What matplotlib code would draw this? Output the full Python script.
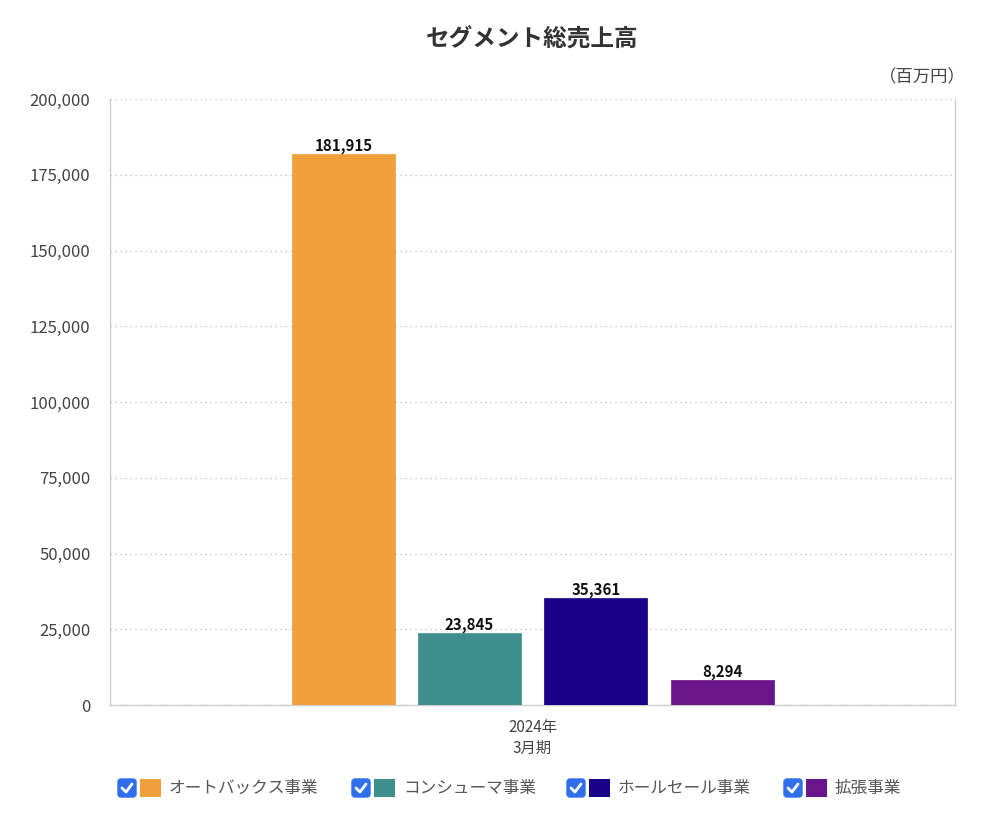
import matplotlib
matplotlib.use("Agg")
import matplotlib.pyplot as plt
from matplotlib.patches import FancyBboxPatch, Rectangle
from matplotlib.lines import Line2D

plt.rcParams['font.family'] = ['Noto Sans CJK JP', 'DejaVu Sans']

title = "セグメント総売上高"
unit = "（百万円）"
category = "2024年\n3月期"
series = ["オートバックス事業", "コンシューマ事業", "ホールセール事業", "拡張事業"]
values = [181915, 23845, 35361, 8294]
colors = ["#F0A03A", "#3E8E8E", "#1A0088", "#6A1589"]
yticks = [0, 25000, 50000, 75000, 100000, 125000, 150000, 175000, 200000]

W, H = 1000, 833
fig = plt.figure(figsize=(W / 100, H / 100), dpi=100)
ax = fig.add_axes([110 / W, 1 - 705 / H, 845 / W, 606 / H])

offsets = [-0.2237, -0.075, 0.075, 0.2249]
bw = 0.122
for off, v, c in zip(offsets, values, colors):
    ax.bar(off, v, width=bw, color=c, edgecolor=c, linewidth=0.5, zorder=3)
    ax.text(off, v, f"{v:,}", ha="center", va="bottom", fontsize=10.8,
            fontweight="bold", color="#111111", zorder=4)

ax.set_xlim(-0.5, 0.5)
ax.set_ylim(0, 200000)
ax.set_yticks(yticks)
ax.set_yticklabels([f"{t:,}" for t in yticks], fontsize=12, color="#444444")
ax.set_xticks([0])
ax.set_xticklabels([category], fontsize=11, color="#444444", linespacing=1.3)
ax.tick_params(axis="both", length=0)
ax.tick_params(axis="x", pad=10)
ax.tick_params(axis="y", pad=14)
ax.yaxis.grid(True, linestyle=(0, (1, 3)), color="#BBBBBB", linewidth=0.9, zorder=0)
for s in ["left", "right", "bottom"]:
    ax.spines[s].set_color("#CCCCCC")
    ax.spines[s].set_linewidth(1.0)
ax.spines["top"].set_visible(False)
ax.set_axisbelow(True)

fig.text(0.5325, 1 - 40 / H, title, ha="center", va="center", fontsize=17,
         fontweight="bold", color="#333333")
fig.text(966 / W, 1 - 77 / H, unit, ha="right", va="center", fontsize=12.5, color="#444444")

# legend
leg_x = [118, 352, 567, 784]
yc = 788
for x0, name, c in zip(leg_x, series, colors):
    cb = FancyBboxPatch(((x0) / W, 1 - (yc + 9) / H), 18 / W, 18 / H,
                        boxstyle="round,pad=0,rounding_size=0.003",
                        transform=fig.transFigure, facecolor="#2F6FEB",
                        edgecolor="#2F6FEB", mutation_aspect=W / H)
    fig.patches.append(cb)
    fig.lines.append(Line2D([(x0 + 4) / W, (x0 + 8) / W, (x0 + 14) / W],
                            [1 - (yc) / H, 1 - (yc + 4) / H, 1 - (yc - 4) / H],
                            transform=fig.transFigure, color="white", linewidth=2,
                            solid_capstyle="round", solid_joinstyle="round"))
    sq = Rectangle(((x0 + 22) / W, 1 - (yc + 9) / H), 21 / W, 18 / H,
                   transform=fig.transFigure, facecolor=c, edgecolor="none")
    fig.patches.append(sq)
    fig.text((x0 + 51) / W, 1 - yc / H, name, ha="left", va="center",
             fontsize=12, color="#555555")

fig.savefig("out.png", dpi=100, facecolor="white")
